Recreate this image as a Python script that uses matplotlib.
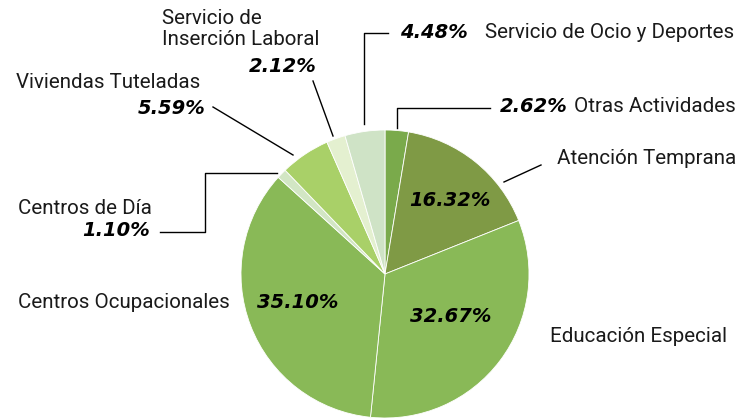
import matplotlib
matplotlib.use("Agg")
import matplotlib.pyplot as plt

# datos (porcentaje por servicio), en orden horario desde arriba
servicios = ["Otras Actividades", "Atención Temprana", "Educación Especial",
             "Centros Ocupacionales", "Centros de Día", "Viviendas Tuteladas",
             "Servicio de\nInserción Laboral", "Servicio de Ocio y Deportes"]
porcentajes = [2.62, 16.32, 32.67, 35.10, 1.10, 5.59, 2.12, 4.48]
colores = ["#7aaa4b", "#7f9a45", "#89b957", "#89b957", "#d2e6c4",
           "#a9d068", "#e4f0d0", "#cfe3c6"]

W, H = 754, 418
plt.rcParams['font.family'] = ['Roboto', 'DejaVu Sans']

fig = plt.figure(figsize=(W / 100, H / 100), dpi=100)
ax = fig.add_axes([0, 0, 1, 1])

def P(x, y):
    # coordenadas de imagen (y hacia abajo) -> datos
    return x, H - y

ax.pie(porcentajes, colors=colores, startangle=90, counterclock=False,
       center=P(385, 274), radius=144, frame=True,
       wedgeprops=dict(edgecolor="white", linewidth=0.6))
ax.set_xlim(0, W)
ax.set_ylim(0, H)
ax.axis('off')

fs = 14.8
pfs = 14
pct = lambda v: "%.2f%%" % v

def name(x, y, s, ha='left', va='center'):
    ax.text(*P(x, y), s, fontsize=fs, ha=ha, va=va, color="#1a1a1a",
            linespacing=1.17)

def num(x, y, v, ha='left'):
    ax.text(*P(x, y), pct(v), fontsize=pfs, ha=ha, va='center',
            family='DejaVu Sans', fontweight='bold', style='oblique',
            color="black")

def line(xs, ys):
    ax.plot(xs, [H - y for y in ys], color="black", lw=1)

# etiquetas dentro del pastel
num(450, 200, porcentajes[1], ha='center')
num(451, 317, porcentajes[2], ha='center')
num(298, 303, porcentajes[3], ha='center')

# Otras Actividades
num(500, 107, porcentajes[0])
name(574, 107, servicios[0])
line([397, 397, 490], [128, 108, 108])

# Atención Temprana
name(557, 158, servicios[1])
line([504, 541], [182, 165])

# Educación Especial
name(550, 337, servicios[2])

# Centros Ocupacionales
name(18, 302, servicios[3])

# Centros de Día
name(18, 208, servicios[4])
num(150, 231, porcentajes[4], ha='right')
line([160, 205, 205, 277], [232, 232, 173, 173])

# Viviendas Tuteladas
name(16, 82, servicios[5])
num(205, 108, porcentajes[5], ha='right')
line([213, 293], [107, 155])

# Servicio de Inserción Laboral
name(162, 29, servicios[6])
num(317, 66, porcentajes[6], ha='right')
line([313, 333], [81, 136])

# Servicio de Ocio y Deportes
num(400, 32, porcentajes[7])
name(485, 32, servicios[7])
line([364, 364, 388], [124, 33, 33])

fig.savefig("out.png", dpi=100)
